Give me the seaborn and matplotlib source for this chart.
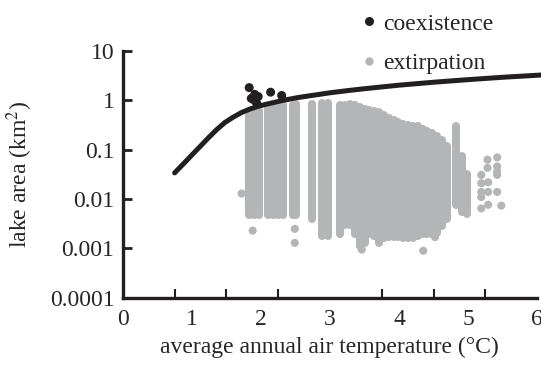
"""
Lake area vs average annual air temperature (coexistence / extirpation)
"""
import numpy as np
import pandas as pd
import matplotlib
matplotlib.use("Agg")
import matplotlib.pyplot as plt
from matplotlib.lines import Line2D
from matplotlib.ticker import FixedLocator, NullLocator
import seaborn as sns

OUT_PATH = "out.png"

BLACK = "#231f20"
GREY = "#b4b5b7"

# threshold curve
CURVE_T = [0.75, 0.9, 1.0, 1.12, 1.25, 1.36, 1.48, 1.6, 1.72, 1.84, 1.96, 2.08,
           2.3, 2.52, 2.75, 3.0, 3.25, 3.5, 4.0, 4.5, 5.0, 5.5, 6.05]
CURVE_A = [0.034, 0.056, 0.0785, 0.117, 0.181, 0.257, 0.359, 0.46, 0.57, 0.67, 0.76, 0.84,
           0.99, 1.135, 1.27, 1.43, 1.58, 1.73, 2.04, 2.34, 2.64, 2.95, 3.27]

# coexistence lakes
COEX_T = [1.83, 1.86, 1.90, 1.91, 1.94, 1.96, 2.14, 2.30]
COEX_A = [1.82, 1.10, 1.02, 1.33, 0.87, 1.20, 1.47, 1.26]

# extirpation lakes: dense columns (temperature, lowest area, highest area)
COL_T = [1.83, 1.90, 1.97,
         2.10, 2.17, 2.24, 2.32,
         2.47, 2.51,
         2.74,
         2.89, 2.97,
         3.15, 3.22, 3.29, 3.36, 3.43, 3.50, 3.57, 3.64, 3.71, 3.78, 3.85, 3.92,
         3.99, 4.06, 4.13, 4.20, 4.27, 4.34, 4.41, 4.48, 4.55, 4.62, 4.69,
         4.83, 4.91, 4.98]
COL_LO = [0.0047, 0.0047, 0.0047,
          0.0047, 0.0047, 0.0047, 0.0047,
          0.0047, 0.0047,
          0.0040,
          0.0018, 0.0018,
          0.0020, 0.0030, 0.0030, 0.0020, 0.0011, 0.0013, 0.0020, 0.0018, 0.0013,
          0.0016, 0.0017, 0.0017, 0.0017, 0.0016, 0.0016, 0.0016, 0.0018, 0.0020,
          0.0020, 0.0020, 0.0021, 0.0028, 0.0040,
          0.0075, 0.0055, 0.0050]
COL_HI = [0.50, 0.58, 0.62,
          0.68, 0.72, 0.76, 0.80,
          0.82, 0.84,
          0.86,
          0.90, 0.90,
          0.80, 0.82, 0.83, 0.80, 0.74, 0.68, 0.65, 0.60, 0.57, 0.50, 0.44, 0.40,
          0.36, 0.33, 0.32, 0.31, 0.30, 0.27, 0.24, 0.22, 0.19, 0.16, 0.12,
          0.30, 0.075, 0.033]

# extirpation lakes: scattered single points
EXT_T = [1.72, 1.88, 2.49, 2.49, 3.46, 4.35, 4.52,
         5.28, 5.42, 5.28, 5.42, 5.19, 5.19, 5.19, 5.29, 5.42, 5.19, 5.19, 5.29,
         5.48, 5.29, 5.42, 5.42]
EXT_A = [0.013, 0.0023, 0.0025, 0.0013, 0.00095, 0.00090, 0.0017,
         0.063, 0.070, 0.043, 0.031, 0.031, 0.021, 0.014, 0.014, 0.014, 0.011,
         0.0065, 0.0077, 0.0074, 0.022, 0.036, 0.046]

X_LABELS = ["0", "1", "2", "3", "4", "5", "6"]
Y_TICKS = [0.0001, 0.001, 0.01, 0.1, 1, 10]
Y_LABELS = ["0.0001", "0.001", "0.01", "0.1", "1", "10"]

sns.set_style("ticks")
plt.rcParams["font.family"] = ["Liberation Serif", "DejaVu Serif"]
plt.rcParams["mathtext.fontset"] = "stix"


def plot():
    fig = plt.figure(figsize=(5.41, 3.65), dpi=100)
    ax = fig.add_axes([0.227, 0.184, 0.766, 0.676])
    ax.set_yscale("log")

    cols = pd.DataFrame({"t": COL_T, "lo": COL_LO, "hi": COL_HI})
    ax.vlines(cols["t"], cols["lo"], cols["hi"], colors=GREY, linewidth=5.8,
              capstyle="round", zorder=1)

    ext = pd.DataFrame({"t": EXT_T, "a": EXT_A})
    sns.scatterplot(data=ext, x="t", y="a", ax=ax, color=GREY, s=34,
                    edgecolor="none", linewidth=0, zorder=1, legend=False)

    curve = pd.DataFrame({"t": CURVE_T, "a": CURVE_A})
    sns.lineplot(data=curve, x="t", y="a", ax=ax, color=BLACK, linewidth=3.6,
                 solid_capstyle="round", solid_joinstyle="round", zorder=3,
                 clip_on=False, sort=True, estimator=None)

    coex = pd.DataFrame({"t": COEX_T, "a": COEX_A})
    sns.scatterplot(data=coex, x="t", y="a", ax=ax, color=BLACK, s=42,
                    edgecolor="none", linewidth=0, zorder=4, legend=False)

    ax.set_xlim(0, 6)
    ax.set_ylim(0.0001, 10)

    # x: labels at integers, tick marks every 0.75
    ax.xaxis.set_major_locator(FixedLocator(range(7)))
    ax.set_xticklabels(X_LABELS)
    ax.xaxis.set_minor_locator(FixedLocator([0.75 * k for k in range(1, 9)]))
    ax.tick_params(axis="x", which="major", length=0, pad=8, labelsize=17)
    ax.tick_params(axis="x", which="minor", direction="in", length=6.5,
                   width=1.5, color=BLACK)

    ax.yaxis.set_major_locator(FixedLocator(Y_TICKS))
    ax.yaxis.set_minor_locator(NullLocator())
    ax.set_yticklabels(Y_LABELS)
    ax.tick_params(axis="y", which="major", direction="in", length=6.5,
                   width=2, color=BLACK, pad=6, labelsize=17)

    sns.despine(ax=ax)
    for side in ["left", "bottom"]:
        ax.spines[side].set_linewidth(2.4)
        ax.spines[side].set_color(BLACK)

    ax.set_xlabel("average annual air temperature (°C)", fontsize=17)
    ax.set_ylabel("lake area (km$^2$)", fontsize=17)
    ax.xaxis.set_label_coords(0.498, -0.158)
    ax.yaxis.set_label_coords(-0.213, 0.50)

    handles = [
        Line2D([], [], linestyle="none", marker="o", markersize=6.5,
               markerfacecolor=BLACK, markeredgecolor="none", label="coexistence"),
        Line2D([], [], linestyle="none", marker="o", markersize=6,
               markerfacecolor=GREY, markeredgecolor="none", label="extirpation"),
    ]
    ax.legend(handles=handles, loc="upper left",
              bbox_to_anchor=(362 / 541, 1 - 13 / 365),
              bbox_transform=fig.transFigure, frameon=False, fontsize=17,
              handlelength=0.6, handletextpad=0.3, labelspacing=0.75,
              borderpad=0, borderaxespad=0)

    fig.savefig(OUT_PATH, dpi=100)


if __name__ == "__main__":
    plot()
